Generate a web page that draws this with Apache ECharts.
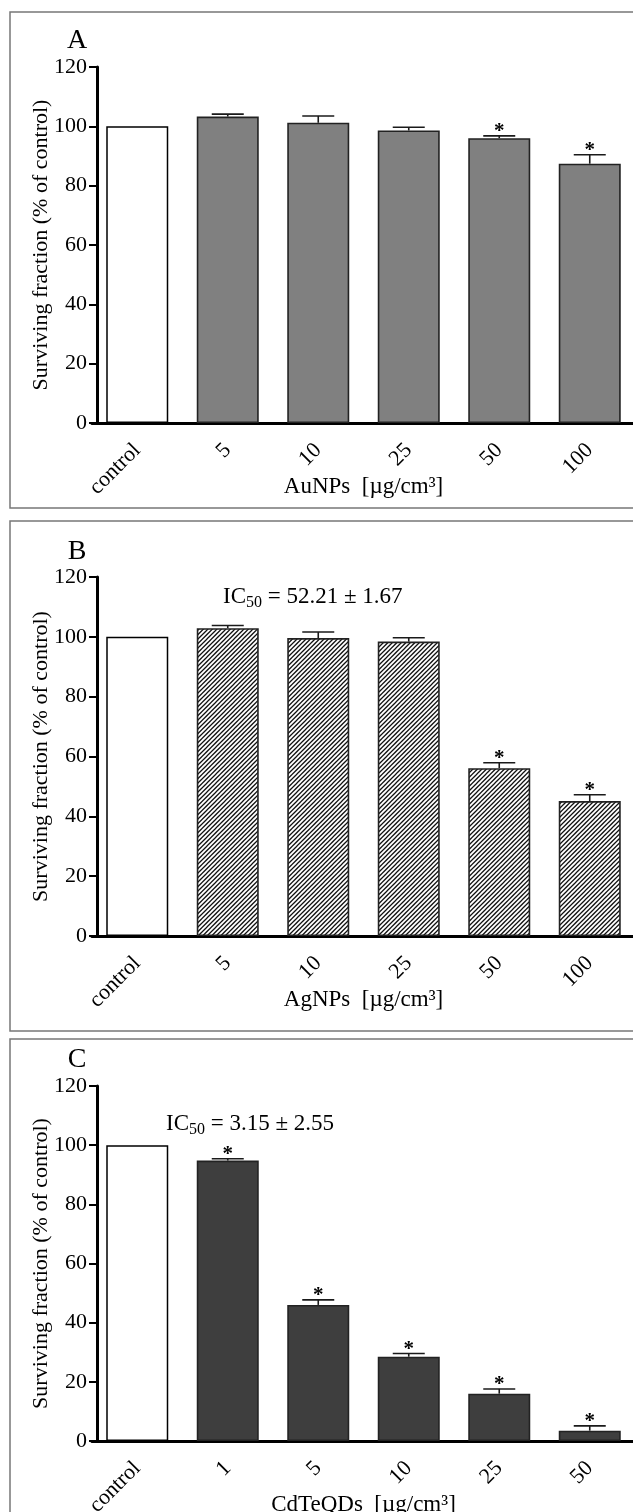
<!DOCTYPE html>
<html><head><meta charset="utf-8">
<script src="https://cdn.jsdelivr.net/npm/echarts@6/dist/echarts.min.js"></script>
<style>html,body{margin:0;padding:0;background:#fff}#c{width:633px;height:1512px}</style>
</head><body><div id="c"></div>
<script>
// ---- data ----
const categoriesA = ['control', '5', '10', '25', '50', '100'];
const valuesA = [100, 103.3, 101.2, 98.6, 96.0, 87.4];
const errorsA = [0, 0.8, 2.3, 1.1, 0.8, 3.0];
const starsA = [0, 0, 0, 0, 1, 1];

const categoriesB = ['control', '5', '10', '25', '50', '100'];
const valuesB = [100, 102.9, 99.6, 98.4, 56.1, 45.1];
const errorsB = [0, 0.9, 2.0, 1.3, 1.8, 2.1];
const starsB = [0, 0, 0, 0, 1, 1];

const categoriesC = ['control', '1', '5', '10', '25', '50'];
const valuesC = [100, 94.8, 46.0, 28.5, 16.0, 3.5];
const errorsC = [0, 0.6, 1.7, 1.1, 1.6, 1.6];
const starsC = [0, 1, 1, 1, 1, 1];

const yMin = 0, yMax = 120, yStep = 20;
const yAxisTitle = 'Surviving fraction (% of control)';
const xTitles = ['AuNPs  [µg/cm³]', 'AgNPs  [µg/cm³]', 'CdTeQDs  [µg/cm³]'];
const panelLetters = ['A', 'B', 'C'];
const icLabels = [null, ['IC', '50', ' = 52.21 ± 1.67'], ['IC', '50', ' = 3.15 ± 2.55']];

// ---- layout / style ----
const FONT = "'Liberation Serif', 'Times New Roman', serif";
const panels = [
  { cats: categoriesA, vals: valuesA, errs: errorsA, stars: starsA, fill: '#808080',
    gridTop: 67, gridH: 356, boxTop: 12, boxBottom: 508, letterY: 41, icX: 0, icY: 0 },
  { cats: categoriesB, vals: valuesB, errs: errorsB, stars: starsB, fill: 'hatch',
    gridTop: 577, gridH: 359, boxTop: 521, boxBottom: 1031, letterY: 552, icX: 223, icY: 598 },
  { cats: categoriesC, vals: valuesC, errs: errorsC, stars: starsC, fill: '#3e3e3e',
    gridTop: 1086, gridH: 355, boxTop: 1039, boxBottom: 1700, letterY: 1060, icX: 166, icY: 1125 }
];

function hatchPattern() {
  const s = 9;
  const cv = document.createElement('canvas');
  cv.width = s; cv.height = s;
  const ctx = cv.getContext('2d');
  ctx.fillStyle = '#fff';
  ctx.fillRect(0, 0, s, s);
  ctx.strokeStyle = '#111';
  ctx.lineWidth = 1.25;
  [0, 4.5, 9, 13.5, 18].forEach(c => {
    ctx.beginPath();
    ctx.moveTo(-1, c + 1);
    ctx.lineTo(s + 1, c - s - 1);
    ctx.stroke();
  });
  return { image: cv, repeat: 'repeat' };
}

const chart = echarts.init(document.getElementById('c'), null, { renderer: 'canvas' });

const grids = [], xAxes = [], yAxes = [], series = [], graphics = [];

panels.forEach((p, i) => {
  grids.push({ left: 92, width: 543, top: p.gridTop, height: p.gridH,
    containLabel: false, outerBoundsMode: 'none' });
  xAxes.push({
    type: 'category', gridIndex: i, data: p.cats,
    axisLine: { show: true, lineStyle: { color: '#000', width: 3 } },
    axisTick: { show: false },
    axisLabel: { rotate: 45, interval: 0, margin: 24, fontSize: 22, fontFamily: FONT, color: '#000' },
    name: xTitles[i], nameLocation: 'middle', nameGap: 52, nameMoveOverlap: false,
    nameTextStyle: { fontSize: 23, fontFamily: FONT, color: '#000' }
  });
  yAxes.push({
    type: 'value', gridIndex: i, min: yMin, max: yMax, interval: yStep, offset: -5,
    axisLine: { show: true, lineStyle: { color: '#000', width: 3 } },
    axisTick: { show: true, length: 8, lineStyle: { color: '#000', width: 2 } },
    axisLabel: { margin: 10, fontSize: 22, fontFamily: FONT, color: '#000' },
    splitLine: { show: false },
    name: yAxisTitle, nameLocation: 'middle', nameGap: 45, nameMoveOverlap: false,
    nameTextStyle: { fontSize: 22, fontFamily: FONT, color: '#000' }
  });
  const fill = p.fill === 'hatch' ? hatchPattern() : p.fill;
  series.push({
    type: 'bar', xAxisIndex: i, yAxisIndex: i, barWidth: 62,
    itemStyle: { color: fill, borderColor: '#222', borderWidth: 1.6 },
    data: p.vals.map((v, j) => p.cats[j] === 'control'
      ? { value: v, itemStyle: { color: '#fff', borderColor: '#000', borderWidth: 1.5 } }
      : v),
    silent: true, animation: false
  });
  series.push({
    type: 'custom', xAxisIndex: i, yAxisIndex: i, z: 5, silent: true, animation: false,
    encode: { x: 0, y: 1 },
    data: p.vals.map((v, j) => [j, v, p.errs[j], p.stars[j]]),
    renderItem: function (params, api) {
      const x = api.value(0), v = api.value(1), e = api.value(2), s = api.value(3);
      const top = api.coord([x, v]);
      const cap = api.coord([x, v + e]);
      const children = [];
      const ls = { stroke: '#1a1a1a', lineWidth: 1.6 };
      if (e > 0) {
        children.push({ type: 'line', shape: { x1: top[0], y1: top[1], x2: cap[0], y2: cap[1] }, style: ls });
        children.push({ type: 'line', shape: { x1: cap[0] - 16, y1: cap[1], x2: cap[0] + 16, y2: cap[1] }, style: ls });
      }
      if (s) {
        children.push({ type: 'text', style: {
          text: '*', x: cap[0], y: cap[1] - 4,
          align: 'center', verticalAlign: 'middle', textAlign: 'center', textVerticalAlign: 'middle',
          font: 'bold 21px ' + FONT, fill: '#000' } });
      }
      return { type: 'group', children: children };
    }
  });

  // panel frame
  graphics.push({ type: 'rect', silent: true, z: -10,
    shape: { x: 10, y: p.boxTop, width: 700, height: p.boxBottom - p.boxTop },
    style: { fill: 'none', stroke: '#777', lineWidth: 1.5 } });
  // panel letter
  graphics.push({ type: 'text', silent: true,
    style: { text: panelLetters[i], x: 77, y: p.letterY,
      align: 'center', verticalAlign: 'middle', textAlign: 'center', textVerticalAlign: 'middle',
      font: '28px ' + FONT, fill: '#000' } });
  // IC50 annotation
  if (icLabels[i]) {
    const t = icLabels[i];
    graphics.push({ type: 'text', silent: true,
      style: { text: '{n|' + t[0] + '}{s|' + t[1] + '}{n|' + t[2] + '}', x: p.icX, y: p.icY,
        align: 'left', verticalAlign: 'middle', textAlign: 'left', textVerticalAlign: 'middle',
        rich: {
          n: { fontSize: 23, fontFamily: FONT, fill: '#000', color: '#000', lineHeight: 26, verticalAlign: 'top' },
          s: { fontSize: 16, fontFamily: FONT, fill: '#000', color: '#000', lineHeight: 12, verticalAlign: 'bottom' }
        } } });
  }
});

chart.setOption({
  animation: false,
  backgroundColor: '#fff',
  grid: grids, xAxis: xAxes, yAxis: yAxes, series: series,
  graphic: { elements: graphics }
});
</script></body></html>
